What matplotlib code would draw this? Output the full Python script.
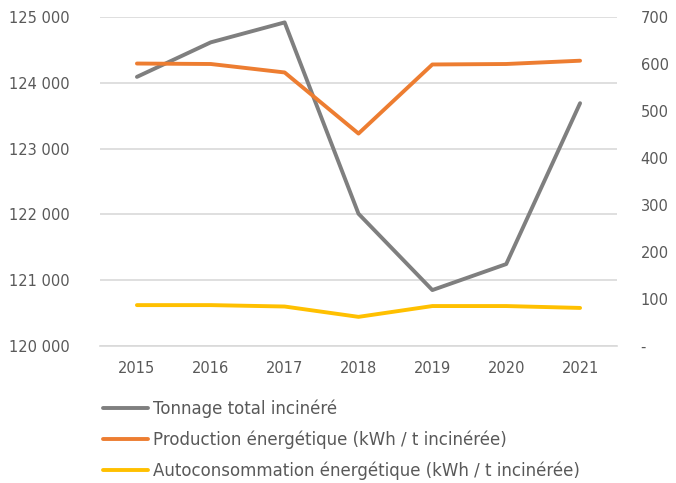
import matplotlib.pyplot as plt
from matplotlib.ticker import FuncFormatter

plt.rcParams['font.family'] = ['DejaVu Sans']

# Data
years = ["2015", "2016", "2017", "2018", "2019", "2020", "2021"]
tonnage = [124090, 124615, 124918, 122010, 120850, 121245, 123690]
production = [601, 600, 582, 452, 599, 600, 607]
autoconso = [87, 87, 84, 62, 85, 85, 81]

labels = ["Tonnage total incinéré",
          "Production énergétique (kWh / t incinérée)",
          "Autoconsommation énergétique (kWh / t incinérée)"]

text_col = "#595959"
grid_col = "#d9d9d9"

fig = plt.figure(figsize=(6.76, 4.83), dpi=100)
ax = fig.add_axes([100 / 676, 1 - 346 / 483, 517 / 676, 329 / 483])
ax2 = ax.twinx()

x = range(len(years))
l1, = ax.plot(x, tonnage, color="#7f7f7f", lw=2.8, solid_capstyle="round", zorder=3)
l2, = ax2.plot(x, production, color="#ed7d31", lw=2.8, solid_capstyle="round")
l3, = ax2.plot(x, autoconso, color="#ffc000", lw=2.8, solid_capstyle="round")

ax.set_xlim(-0.5, len(years) - 0.5)
ax.set_ylim(120000, 125000)
ax.set_yticks(range(120000, 125001, 1000))
ax.yaxis.set_major_formatter(FuncFormatter(lambda v, p: f"{int(v):,}".replace(",", " ")))
ax2.set_ylim(0, 700)
ax2.set_yticks(range(0, 701, 100))
ax2.yaxis.set_major_formatter(FuncFormatter(lambda v, p: "-" if v == 0 else f"{int(v)}"))

ax.set_xticks(list(x))
ax.set_xticklabels(years)
ax.grid(axis="y", color=grid_col, lw=1.2)
ax.set_axisbelow(True)

for a in (ax, ax2):
    for s in a.spines.values():
        s.set_visible(False)
    a.tick_params(length=0, colors=text_col, labelsize=10.5)
ax.spines["bottom"].set_visible(True)
ax.spines["bottom"].set_color(grid_col)
ax.spines["bottom"].set_linewidth(1.2)
ax.tick_params(axis="y", pad=22)
ax.tick_params(axis="x", pad=11)
ax2.tick_params(axis="y", pad=17)

fig.legend([l1, l2, l3], labels, loc="upper left", bbox_to_anchor=(96 / 676, 1 - 393 / 483),
           frameon=False, fontsize=12, labelcolor=text_col, handlelength=2.7,
           handletextpad=0.3, labelspacing=0.75, borderaxespad=0)

fig.savefig("out.png", dpi=100)
